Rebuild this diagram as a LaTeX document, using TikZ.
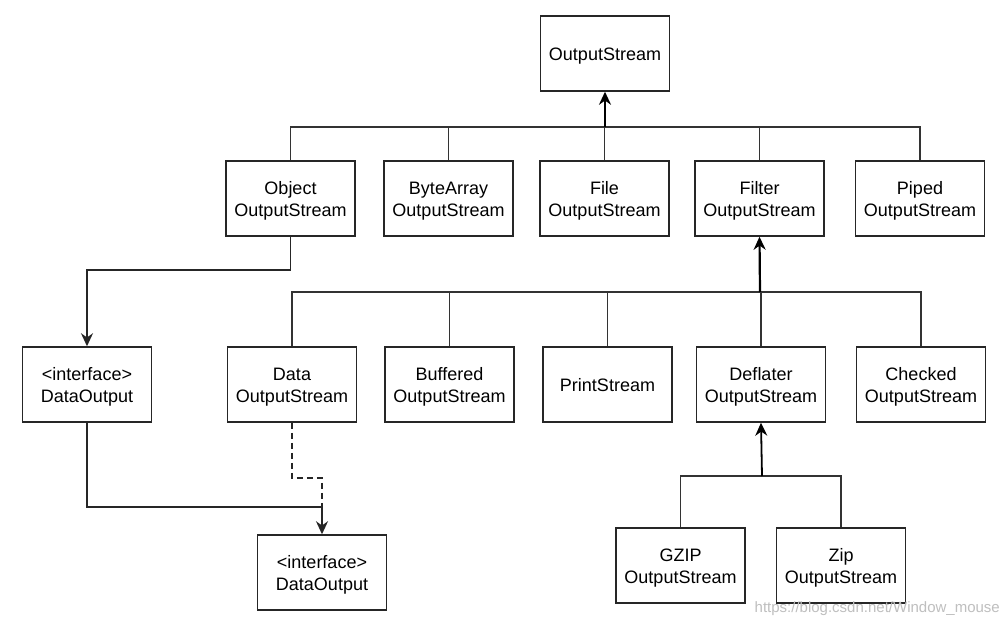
\documentclass[tikz,border=0pt]{standalone}
\usepackage{fontspec}
\setmainfont{Liberation Sans}
\usetikzlibrary{arrows.meta}
\newcommand\boxtext[1]{\raisebox{-2.5pt}[\height][\depth]{\begin{tabular}{@{}c@{}}#1\end{tabular}}}
\begin{document}
\begin{tikzpicture}[x=1pt,y=-1pt,
  cls/.style={draw=black!85,line width=1.5pt,rectangle,minimum width=129pt,minimum height=75pt,
    align=center,inner sep=0pt,font=\fontsize{18}{22}\selectfont,text=black},
  link/.style={draw=black!80,line width=1.6pt},
  up/.style={draw=black,line width=2.2pt,-{Stealth[length=13pt,width=12pt]}},
  down/.style={draw=black!85,line width=1.5pt,-{Stealth[length=13pt,width=12pt]}},
  dashlink/.style={draw=black!85,line width=1.5pt,dash pattern=on 6pt off 4pt}]
\useasboundingbox (0,0) rectangle (1007,628);
\fill[white] (0,0) rectangle (1007,628);
% top
\node[cls] (os) at (605,53.5) {\boxtext{OutputStream}};
% row 1
\node[cls] (obj) at (290.5,198.5) {\boxtext{Object\\OutputStream}};
\node[cls] (ba) at (448.5,198.5) {\boxtext{ByteArray\\OutputStream}};
\node[cls] (file) at (604.5,198.5) {\boxtext{File\\OutputStream}};
\node[cls] (filt) at (759.5,198.5) {\boxtext{Filter\\OutputStream}};
\node[cls] (piped) at (920,198.5) {\boxtext{Piped\\OutputStream}};
% row 2
\node[cls] (di1) at (87,384.5) {\boxtext{<interface>\\DataOutput}};
\node[cls] (data) at (292,384.5) {\boxtext{Data\\OutputStream}};
\node[cls] (buf) at (449.5,384.5) {\boxtext{Buffered\\OutputStream}};
\node[cls] (ps) at (607.5,384.5) {\boxtext{PrintStream}};
\node[cls] (defl) at (761,384.5) {\boxtext{Deflater\\OutputStream}};
\node[cls] (chk) at (921,384.5) {\boxtext{Checked\\OutputStream}};
% row 3
\node[cls] (di2) at (322,572.5) {\boxtext{<interface>\\DataOutput}};
\node[cls] (gzip) at (680.5,565.5) {\boxtext{GZIP\\OutputStream}};
\node[cls] (zip) at (841,565.5) {\boxtext{Zip\\OutputStream}};
% buses
\coordinate (bus1) at (605,127);
\coordinate (bus2) at (760,292);
\coordinate (bus3) at (762,476);
\foreach \n in {obj,ba,file,piped} \draw[link] (\n.north) |- (bus1);
\draw[link] (filt.north) |- (bus1);
\draw[up] (bus1) -- (os.south);
\foreach \n in {data,buf,ps,chk} \draw[link] (\n.north) |- (bus2);
\draw[link] (defl.north) |- (bus2);
\draw[up] (bus2) -- (filt.south);
\draw[link] (gzip.north) |- (bus3);
\draw[link] (zip.north) |- (bus3);
\draw[up,line width=1.8pt] (bus3) -- (defl.south);
% other connectors
\coordinate (o1) at (290.5,270);
\coordinate (o2) at (87,270);
\draw[down] (obj.south) -- (o1) -- (o2) -- (di1.north);
\coordinate (d1) at (87,507);
\coordinate (d2) at (322,507);
\draw[down] (di1.south) -- (d1) -- (d2) -- (di2.north);
\coordinate (e1) at (292,478);
\coordinate (e2) at (322,478);
\draw[dashlink] (data.south) -- (e1) -- (e2) -- (d2);
% watermark
\node[anchor=east,text=black!25,font=\fontsize{15}{18}\selectfont,inner sep=0pt] (wm) at (1000,609) {https://blog.csdn.net/Window\_mouse};
\end{tikzpicture}
\end{document}
